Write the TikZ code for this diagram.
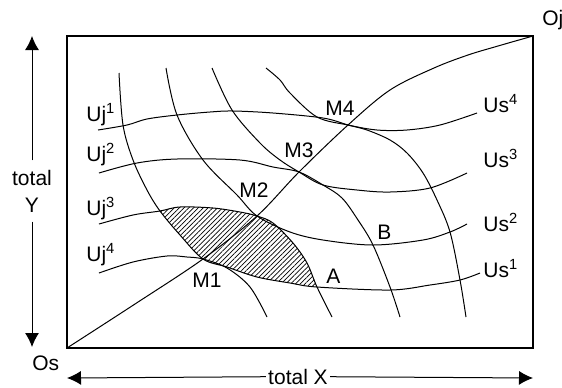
\documentclass[tikz,border=0pt]{standalone}
\usepackage{fontspec}
\setmainfont{Liberation Sans}
\usetikzlibrary{arrows.meta,patterns.meta}
\tikzset{lbl/.style={inner sep=0pt,font=\fontsize{10.5}{13.5}\selectfont},
  curve/.style={line width=0.5pt,smooth,tension=0.55},
  axis/.style={line width=0.5pt,-{Latex[length=7pt,width=7pt]}}
}

\begin{document}
\begin{tikzpicture}[x=0.5pt,y=-0.5pt]
  \useasboundingbox (0,0) rectangle (562,387);

  % Box and origins
    \coordinate (Os) at (67,348);
    \coordinate (Oj) at (533,36);
    \draw[line width=0.6pt] (Os) rectangle (Oj);

    % Tangency points
    \coordinate (M1) at (203,259);
    \coordinate (M2) at (257,216);
    \coordinate (M3) at (299,172);
    \coordinate (M4) at (348,125);
    \coordinate (A) at (317,287);
    \coordinate (B) at (373,245);

    % Shaded lens between Us1 and Uj3
    \fill[pattern={Lines[angle=45,distance=1.7pt,line width=0.35pt]}]
      plot[smooth,tension=0.55] coordinates {(160,211) (180,235) (M1) (227,267) (257,277) (290,283) (A)}
      -- plot[smooth,tension=0.55] coordinates {(A) (307,263) (293,243) (273,223) (M2) (240,212) (213,208) (180,207) (160,211)} -- cycle;

    % Contract curve
    \draw[curve] plot coordinates {(Os) (135,304) (M1) (M2) (M3) (M4) (390,90) (434,68) (468,55) (498,46) (Oj)};

    % Us curves
    \draw[curve] plot coordinates {(119,73) (123,125) (133,160) (147,190) (160,211) (180,235) (M1) (227,267) (257,277) (290,283) (A) (390,290) (430,285) (460,280) (480,273)};
    \draw[curve] plot coordinates {(166,68) (177,115) (203,160) (237,195) (M2) (290,232) (323,240) (B) (423,240) (450,232) (467,224)};
    \draw[curve] plot coordinates {(212,68) (232,110) (260,143) (280,160) (M3) (323,185) (357,190) (390,192) (430,188) (467,173)};
    \draw[curve] plot coordinates {(266,68) (280,80) (290,93) (317,117) (M4) (377,130) (407,130) (440,125) (477,113)};

    % Uj curves
    \draw[curve] plot coordinates {(98,130) (127,125) (147,119) (177,115) (210,112) (233,111) (273,113) (323,118) (M4) (367,130) (390,140) (407,153) (423,173) (437,200) (450,232) (460,280) (466,317)};
    \draw[curve] plot coordinates {(99,173) (137,163) (177,159) (240,160) (273,167) (M3) (323,185) (342,198) (358,220) (B) (390,287) (400,317)};
    \draw[curve] plot coordinates {(99,224) (133,215) (160,211) (180,207) (213,208) (240,212) (M2) (273,223) (293,243) (307,263) (A) (332,317)};
    \draw[curve] plot coordinates {(99,273) (133,262) (167,256) (187,257) (M1) (227,268) (250,287) (267,317)};

    % Curve labels
    \node[lbl,anchor=base west] (uj1) at (86,121) {Uj\textsuperscript{1}};
    \node[lbl,anchor=base west] (uj2) at (86,161) {Uj\textsuperscript{2}};
    \node[lbl,anchor=base west] (uj3) at (86,215) {Uj\textsuperscript{3}};
    \node[lbl,anchor=base west] (uj4) at (86,261) {Uj\textsuperscript{4}};
    \node[lbl,anchor=base west] (us4) at (483,112) {Us\textsuperscript{4}};
    \node[lbl,anchor=base west] (us3) at (483,167) {Us\textsuperscript{3}};
    \node[lbl,anchor=base west] (us2) at (483,231) {Us\textsuperscript{2}};
    \node[lbl,anchor=base west] (us1) at (483,277) {Us\textsuperscript{1}};

    % Point labels
    \node[lbl,anchor=base west] (m1) at (192,287) {M1};
    \node[lbl,anchor=base west] (m2) at (239,197) {M2};
    \node[lbl,anchor=base west] (m3) at (284,157) {M3};
    \node[lbl,anchor=base west] (m4) at (325,115) {M4};
    \node[lbl,anchor=base west] (a) at (326,283) {A};
    \node[lbl,anchor=base west] (b) at (377,239) {B};
    \node[lbl,anchor=base west] (os) at (32,370) {Os};
    \node[lbl,anchor=base west] (oj) at (542,25) {Oj};

    % Axes
    \coordinate (ytop) at (32,36);
    \coordinate (ybot) at (32,347);
    \coordinate (xl) at (67,378);
    \coordinate (xr) at (533,378);
    \node[lbl,inner sep=4.5pt,align=center] (toty) at (32,191) {total\\Y};
    \node[lbl,inner sep=1pt,anchor=base] (totx) at (298,384) {total X};
    \draw[axis] (toty) -- (ytop);
    \draw[axis] (toty) -- (ybot);
    \draw[axis] (totx) -- (xl);
    \draw[axis] (totx) -- (xr);

  \end{tikzpicture}
\end{document}
